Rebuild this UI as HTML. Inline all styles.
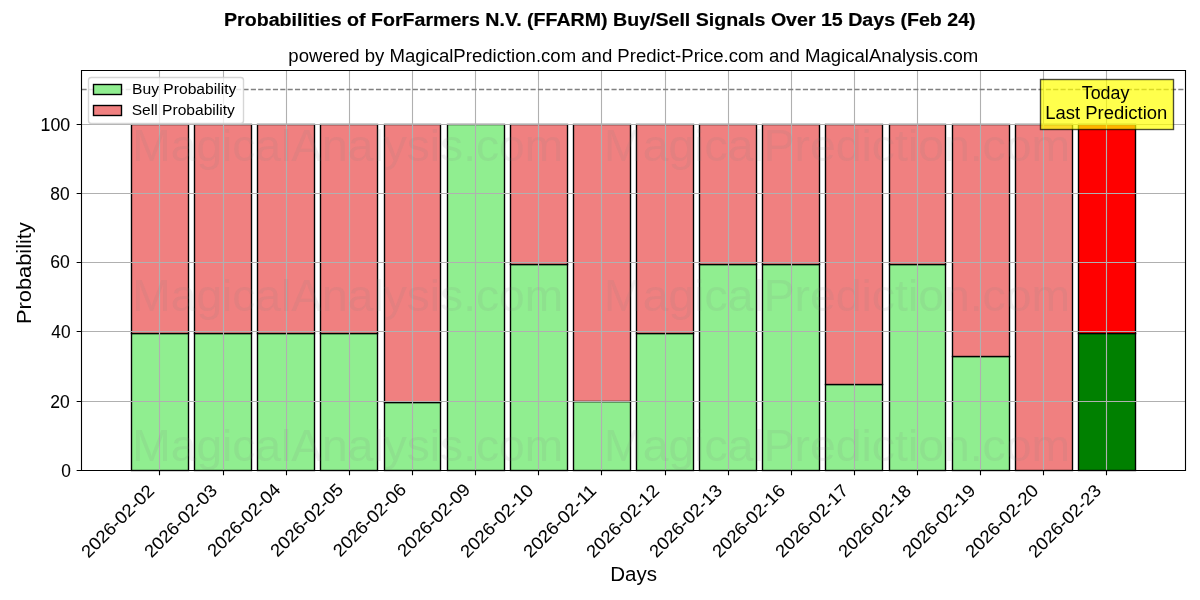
<!DOCTYPE html>
<html><head><meta charset="utf-8"><title>Probabilities of ForFarmers N.V. (FFARM) Buy/Sell Signals</title>
<style>html,body{margin:0;padding:0;background:#fff;width:1200px;height:600px;overflow:hidden}svg{display:block;will-change:transform}svg text{font-family:"Liberation Sans",sans-serif;white-space:pre}</style></head><body>
<svg width="1200" height="600" viewBox="0 0 1200 600">
<rect width="1200" height="600" fill="#fff"/>
<g id="bars">
<rect x="131.50" y="333.50" width="57.00" height="137.00" fill="#90ee90" stroke="#000" stroke-width="1.389"/>
<rect x="194.50" y="333.50" width="57.00" height="137.00" fill="#90ee90" stroke="#000" stroke-width="1.389"/>
<rect x="257.50" y="333.50" width="57.00" height="137.00" fill="#90ee90" stroke="#000" stroke-width="1.389"/>
<rect x="320.50" y="333.50" width="57.00" height="137.00" fill="#90ee90" stroke="#000" stroke-width="1.389"/>
<rect x="384.50" y="402.50" width="56.00" height="68.00" fill="#90ee90" stroke="#000" stroke-width="1.389"/>
<rect x="447.50" y="124.50" width="57.00" height="346.00" fill="#90ee90" stroke="#000" stroke-width="1.389"/>
<rect x="510.50" y="264.50" width="57.00" height="206.00" fill="#90ee90" stroke="#000" stroke-width="1.389"/>
<rect x="573.50" y="401.50" width="57.00" height="69.00" fill="#90ee90" stroke="#000" stroke-width="1.389"/>
<rect x="636.50" y="333.50" width="57.00" height="137.00" fill="#90ee90" stroke="#000" stroke-width="1.389"/>
<rect x="699.50" y="264.50" width="57.00" height="206.00" fill="#90ee90" stroke="#000" stroke-width="1.389"/>
<rect x="762.50" y="264.50" width="57.00" height="206.00" fill="#90ee90" stroke="#000" stroke-width="1.389"/>
<rect x="825.50" y="384.50" width="57.00" height="86.00" fill="#90ee90" stroke="#000" stroke-width="1.389"/>
<rect x="889.50" y="264.50" width="56.00" height="206.00" fill="#90ee90" stroke="#000" stroke-width="1.389"/>
<rect x="952.50" y="356.50" width="57.00" height="114.00" fill="#90ee90" stroke="#000" stroke-width="1.389"/>
<rect x="1078.50" y="333.50" width="57.00" height="137.00" fill="#008000" stroke="#000" stroke-width="1.389"/>
<rect x="131.50" y="124.50" width="57.00" height="209.00" fill="#f08080" stroke="#000" stroke-width="1.389"/>
<rect x="194.50" y="124.50" width="57.00" height="209.00" fill="#f08080" stroke="#000" stroke-width="1.389"/>
<rect x="257.50" y="124.50" width="57.00" height="209.00" fill="#f08080" stroke="#000" stroke-width="1.389"/>
<rect x="320.50" y="124.50" width="57.00" height="209.00" fill="#f08080" stroke="#000" stroke-width="1.389"/>
<rect x="384.50" y="124.50" width="56.00" height="278.00" fill="#f08080" stroke="#000" stroke-width="1.389"/>
<rect x="510.50" y="124.50" width="57.00" height="140.00" fill="#f08080" stroke="#000" stroke-width="1.389"/>
<rect x="573.50" y="124.50" width="57.00" height="277.00" fill="#f08080" stroke="#000" stroke-width="1.389"/>
<rect x="636.50" y="124.50" width="57.00" height="209.00" fill="#f08080" stroke="#000" stroke-width="1.389"/>
<rect x="699.50" y="124.50" width="57.00" height="140.00" fill="#f08080" stroke="#000" stroke-width="1.389"/>
<rect x="762.50" y="124.50" width="57.00" height="140.00" fill="#f08080" stroke="#000" stroke-width="1.389"/>
<rect x="825.50" y="124.50" width="57.00" height="260.00" fill="#f08080" stroke="#000" stroke-width="1.389"/>
<rect x="889.50" y="124.50" width="56.00" height="140.00" fill="#f08080" stroke="#000" stroke-width="1.389"/>
<rect x="952.50" y="124.50" width="57.00" height="232.00" fill="#f08080" stroke="#000" stroke-width="1.389"/>
<rect x="1015.50" y="124.50" width="57.00" height="346.00" fill="#f08080" stroke="#000" stroke-width="1.389"/>
<rect x="1078.50" y="124.50" width="57.00" height="209.00" fill="#ff0000" stroke="#000" stroke-width="1.389"/>
</g>
<g id="grid">
<line x1="159.50" y1="70.33" x2="159.50" y2="469.85" stroke="#b0b0b0" stroke-width="1.111"/>
<line x1="223.50" y1="70.33" x2="223.50" y2="469.85" stroke="#b0b0b0" stroke-width="1.111"/>
<line x1="286.50" y1="70.33" x2="286.50" y2="469.85" stroke="#b0b0b0" stroke-width="1.111"/>
<line x1="349.50" y1="70.33" x2="349.50" y2="469.85" stroke="#b0b0b0" stroke-width="1.111"/>
<line x1="412.50" y1="70.33" x2="412.50" y2="469.85" stroke="#b0b0b0" stroke-width="1.111"/>
<line x1="475.50" y1="70.33" x2="475.50" y2="469.85" stroke="#b0b0b0" stroke-width="1.111"/>
<line x1="538.50" y1="70.33" x2="538.50" y2="469.85" stroke="#b0b0b0" stroke-width="1.111"/>
<line x1="601.50" y1="70.33" x2="601.50" y2="469.85" stroke="#b0b0b0" stroke-width="1.111"/>
<line x1="665.50" y1="70.33" x2="665.50" y2="469.85" stroke="#b0b0b0" stroke-width="1.111"/>
<line x1="728.50" y1="70.33" x2="728.50" y2="469.85" stroke="#b0b0b0" stroke-width="1.111"/>
<line x1="791.50" y1="70.33" x2="791.50" y2="469.85" stroke="#b0b0b0" stroke-width="1.111"/>
<line x1="854.50" y1="70.33" x2="854.50" y2="469.85" stroke="#b0b0b0" stroke-width="1.111"/>
<line x1="917.50" y1="70.33" x2="917.50" y2="469.85" stroke="#b0b0b0" stroke-width="1.111"/>
<line x1="980.50" y1="70.33" x2="980.50" y2="469.85" stroke="#b0b0b0" stroke-width="1.111"/>
<line x1="1043.50" y1="70.33" x2="1043.50" y2="469.85" stroke="#b0b0b0" stroke-width="1.111"/>
<line x1="1106.50" y1="70.33" x2="1106.50" y2="469.85" stroke="#b0b0b0" stroke-width="1.111"/>
<line x1="80.90" y1="470.50" x2="1185.00" y2="470.50" stroke="#b0b0b0" stroke-width="1.111"/>
<line x1="80.90" y1="401.50" x2="1185.00" y2="401.50" stroke="#b0b0b0" stroke-width="1.111"/>
<line x1="80.90" y1="331.50" x2="1185.00" y2="331.50" stroke="#b0b0b0" stroke-width="1.111"/>
<line x1="80.90" y1="262.50" x2="1185.00" y2="262.50" stroke="#b0b0b0" stroke-width="1.111"/>
<line x1="80.90" y1="193.50" x2="1185.00" y2="193.50" stroke="#b0b0b0" stroke-width="1.111"/>
<line x1="80.90" y1="124.50" x2="1185.00" y2="124.50" stroke="#b0b0b0" stroke-width="1.111"/>
</g>
<line x1="80.90" y1="89.50" x2="1185.00" y2="89.50" stroke="#808080" stroke-width="1.389" stroke-dasharray="5.139 2.222" stroke-dashoffset="-0.6"/>
<path d="M81.5 70.5H1185.5V470.5H81.5Z" fill="none" stroke="#000" stroke-width="1.111" stroke-linecap="square"/>
<path d="M159.50 470.50v4.86M223.50 470.50v4.86M286.50 470.50v4.86M349.50 470.50v4.86M412.50 470.50v4.86M475.50 470.50v4.86M538.50 470.50v4.86M601.50 470.50v4.86M665.50 470.50v4.86M728.50 470.50v4.86M791.50 470.50v4.86M854.50 470.50v4.86M917.50 470.50v4.86M980.50 470.50v4.86M1043.50 470.50v4.86M1106.50 470.50v4.86M81.50 470.50h-4.86M81.50 401.50h-4.86M81.50 331.50h-4.86M81.50 262.50h-4.86M81.50 193.50h-4.86M81.50 124.50h-4.86" stroke="#000" stroke-width="1.111"/>
<g id="xticks">
<text transform="translate(88.56 557.01) rotate(-45)" x="-1.29" y="1.15" font-size="17.67" stroke="#000" stroke-width="0.06" textLength="94.44" lengthAdjust="spacingAndGlyphs">2026-02-02</text>
<text transform="translate(151.68 557.01) rotate(-45)" x="-1.24" y="0.85" font-size="17.67" stroke="#000" stroke-width="0.06" textLength="94.51" lengthAdjust="spacingAndGlyphs">2026-02-03</text>
<text transform="translate(214.81 557.01) rotate(-45)" x="-0.77" y="0.25" font-size="17.67" stroke="#000" stroke-width="0.06" textLength="94.89" lengthAdjust="spacingAndGlyphs">2026-02-04</text>
<text transform="translate(277.94 557.01) rotate(-45)" x="-0.82" y="0.15" font-size="17.67" stroke="#000" stroke-width="0.06" textLength="94.54" lengthAdjust="spacingAndGlyphs">2026-02-05</text>
<text transform="translate(341.06 557.01) rotate(-45)" x="-1.03" y="-0.15" font-size="17.67" stroke="#000" stroke-width="0.06" textLength="94.67" lengthAdjust="spacingAndGlyphs">2026-02-06</text>
<text transform="translate(404.19 557.01) rotate(-45)" x="-0.33" y="0.6" font-size="17.67" stroke="#000" stroke-width="0.06" textLength="94.74" lengthAdjust="spacingAndGlyphs">2026-02-09</text>
<text transform="translate(467.32 557.01) rotate(-45)" x="-1.13" y="1.3" font-size="17.67" stroke="#000" stroke-width="0.06" textLength="94.74" lengthAdjust="spacingAndGlyphs">2026-02-10</text>
<text transform="translate(530.45 557.01) rotate(-45)" x="-1.15" y="1.25" font-size="17.67" stroke="#000" stroke-width="0.06" textLength="94.61" lengthAdjust="spacingAndGlyphs">2026-02-11</text>
<text transform="translate(593.57 557.01) rotate(-45)" x="-1.29" y="1.15" font-size="17.67" stroke="#000" stroke-width="0.06" textLength="94.61" lengthAdjust="spacingAndGlyphs">2026-02-12</text>
<text transform="translate(656.7 557.01) rotate(-45)" x="-1.24" y="0.85" font-size="17.67" stroke="#000" stroke-width="0.06" textLength="94.46" lengthAdjust="spacingAndGlyphs">2026-02-13</text>
<text transform="translate(719.83 557.01) rotate(-45)" x="-1.44" y="0.8" font-size="17.67" stroke="#000" stroke-width="0.06" textLength="94.51" lengthAdjust="spacingAndGlyphs">2026-02-16</text>
<text transform="translate(782.96 557.01) rotate(-45)" x="-1.43" y="0.7" font-size="17.67" stroke="#000" stroke-width="0.06" textLength="94.54" lengthAdjust="spacingAndGlyphs">2026-02-17</text>
<text transform="translate(846.08 557.01) rotate(-45)" x="-1.59" y="0.7" font-size="17.67" stroke="#000" stroke-width="0.06" textLength="94.3" lengthAdjust="spacingAndGlyphs">2026-02-18</text>
<text transform="translate(909.21 557.01) rotate(-45)" x="-0.94" y="1.4" font-size="17.67" stroke="#000" stroke-width="0.06" textLength="94.58" lengthAdjust="spacingAndGlyphs">2026-02-19</text>
<text transform="translate(972.34 557.01) rotate(-45)" x="-1.13" y="1.3" font-size="17.67" stroke="#000" stroke-width="0.06" textLength="94.74" lengthAdjust="spacingAndGlyphs">2026-02-20</text>
<text transform="translate(1035.47 557.01) rotate(-45)" x="-1.12" y="1.2" font-size="17.67" stroke="#000" stroke-width="0.06" textLength="94.46" lengthAdjust="spacingAndGlyphs">2026-02-23</text>
</g><g id="yticks">
<text x="61.33" y="477.18" font-size="17.67" stroke="#000" stroke-width="0.06" textLength="9.65" lengthAdjust="spacingAndGlyphs">0</text>
<text x="50.36" y="407.95" font-size="17.67" stroke="#000" stroke-width="0.06" textLength="19.47" lengthAdjust="spacingAndGlyphs">20</text>
<text x="51.37" y="337.77" font-size="17.67" stroke="#000" stroke-width="0.06" textLength="19.23" lengthAdjust="spacingAndGlyphs">40</text>
<text x="50.14" y="268.44" font-size="17.67" stroke="#000" stroke-width="0.06" textLength="19.55" lengthAdjust="spacingAndGlyphs">60</text>
<text x="50.37" y="200.41" font-size="17.67" stroke="#000" stroke-width="0.06" textLength="19.32" lengthAdjust="spacingAndGlyphs">80</text>
<text x="40.58" y="131.23" font-size="17.67" stroke="#000" stroke-width="0.06" textLength="29.62" lengthAdjust="spacingAndGlyphs">100</text>
</g>
<text x="610.27" y="580.75" font-size="20.42" textLength="46.82" lengthAdjust="spacingAndGlyphs">Days</text>
<text transform="translate(29.77 270.09) rotate(-90)" x="-53.9" y="0.95" font-size="20.42" textLength="101.79" lengthAdjust="spacingAndGlyphs">Probability</text>
<g id="wm">
<text x="132.3" y="161.35" font-size="43.75" fill="#808080" fill-opacity="0.11" textLength="430.88" lengthAdjust="spacingAndGlyphs">MagicalAnalysis.com</text>
<text x="604.08" y="161.4" font-size="43.75" fill="#808080" fill-opacity="0.11" textLength="466.03" lengthAdjust="spacingAndGlyphs">MagicalPrediction.com</text>
<text x="132.3" y="311.35" font-size="43.75" fill="#808080" fill-opacity="0.11" textLength="430.88" lengthAdjust="spacingAndGlyphs">MagicalAnalysis.com</text>
<text x="604.08" y="311.4" font-size="43.75" fill="#808080" fill-opacity="0.11" textLength="466.03" lengthAdjust="spacingAndGlyphs">MagicalPrediction.com</text>
<text x="132.3" y="461.35" font-size="43.75" fill="#808080" fill-opacity="0.11" textLength="430.88" lengthAdjust="spacingAndGlyphs">MagicalAnalysis.com</text>
<text x="604.08" y="461.4" font-size="43.75" fill="#808080" fill-opacity="0.11" textLength="466.03" lengthAdjust="spacingAndGlyphs">MagicalPrediction.com</text>
</g>
<rect x="1040.5" y="79.5" width="133" height="50" fill="#ff0" fill-opacity="0.7" stroke="#000" stroke-opacity="0.7" stroke-width="1.389"/>
<text x="1081.73" y="99.28" font-size="17.5" textLength="47.66" lengthAdjust="spacingAndGlyphs">Today</text>
<text x="1045.2" y="118.94" font-size="17.5" textLength="122.11" lengthAdjust="spacingAndGlyphs">Last Prediction</text>
<rect x="88.5" y="77.5" width="155" height="46" rx="2.78" fill="#fff" fill-opacity="0.8" stroke="#ccc" stroke-opacity="0.8" stroke-width="1.389"/>
<rect x="93.5" y="84.5" width="28" height="10" fill="#90ee90" stroke="#000" stroke-width="1.389"/>
<rect x="93.5" y="105.5" width="28" height="10" fill="#f08080" stroke="#000" stroke-width="1.389"/>
<text x="132.04" y="94.34" font-size="14.58" textLength="104.35" lengthAdjust="spacingAndGlyphs">Buy Probability</text>
<text x="131.73" y="114.82" font-size="14.58" textLength="103.17" lengthAdjust="spacingAndGlyphs">Sell Probability</text>
<text x="288.35" y="61.95" font-size="17.5" textLength="689.95" lengthAdjust="spacingAndGlyphs">powered by MagicalPrediction.com and Predict-Price.com and MagicalAnalysis.com</text>
<text x="224.05" y="25.56" font-size="17.5" font-weight="bold" stroke="#000" stroke-width="0.18" textLength="751.56" lengthAdjust="spacingAndGlyphs">Probabilities of ForFarmers N.V. (FFARM) Buy/Sell Signals Over 15 Days (Feb 24)</text>
</svg></body></html>
